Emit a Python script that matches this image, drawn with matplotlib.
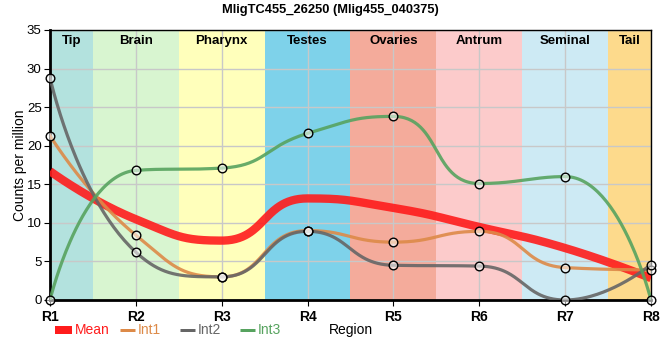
import numpy as np
import matplotlib
matplotlib.use("Agg")
import matplotlib.pyplot as plt

plt.rcParams['font.family'] = ['Liberation Sans', 'DejaVu Sans']

title = "MligTC455_26250 (Mlig455_040375)"
regions = ["R1", "R2", "R3", "R4", "R5", "R6", "R7", "R8"]
tissues = ["Tip", "Brain", "Pharynx", "Testes", "Ovaries", "Antrum", "Seminal", "Tail"]
tissue_colors = ["#b3e2de", "#d8f5d0", "#ffffbb", "#7ed2ea", "#f4ab9b", "#fccbcb", "#cdeaf4", "#fdda8c"]

int1 = [21.3, 8.4, 3.0, 9.0, 7.5, 8.9, 4.2, 3.9]
int2 = [28.8, 6.2, 3.0, 8.9, 4.5, 4.4, 0.0, 4.6]
int3 = [0.0, 16.8, 17.1, 21.6, 23.8, 15.1, 16.0, 0.0]
mean = list(np.mean([int1, int2, int3], axis=0))

FIG_W, FIG_H = 660, 360
AX_L, AX_R, AX_T, AX_B = 50, 651, 30, 300
YMAX = 35


def smooth_curve(xs, ys, smooth=0.5, n=60):
    """Bezier smoothing of a polyline, with control points clamped to the
    boxes of neighbouring points (computed in pixel space)."""
    sx = (AX_R - AX_L) / (len(xs) - 1)
    sy = (AX_B - AX_T) / YMAX
    P = [(x * sx, y * sy) for x, y in zip(xs, ys)]
    segs = []
    cp0 = P[0]
    for k in range(1, len(P)):
        x, y = P[k]
        px, py = P[k - 1]
        if k == len(P) - 1:
            cp1 = (x, y)
            ncp0 = None
        else:
            nx, ny = P[k + 1]
            vx, vy = nx - px, ny - py
            lp = np.hypot(x - px, y - py)
            ln = np.hypot(nx - x, ny - y)
            r = ln / (ln + lp)
            c0x = x + vx * smooth * r
            c0y = y + vy * smooth * r
            c0x = max(min(c0x, max(nx, x)), min(nx, x))
            c0y = max(min(c0y, max(ny, y)), min(ny, y))
            vx, vy = c0x - x, c0y - y
            c1x = x - vx * lp / ln
            c1y = y - vy * lp / ln
            c1x = max(min(c1x, max(px, x)), min(px, x))
            c1y = max(min(c1y, max(py, y)), min(py, y))
            vx, vy = x - c1x, y - c1y
            ncp0 = (x + vx * ln / lp, y + vy * ln / lp)
            cp1 = (c1x, c1y)
        segs.append((P[k - 1], cp0, cp1, (x, y)))
        cp0 = ncp0
    t = np.linspace(0, 1, n)[:, None]
    out = []
    for a, b, c, d in segs:
        a, b, c, d = map(np.array, (a, b, c, d))
        out.append((1 - t)**3 * a + 3 * (1 - t)**2 * t * b + 3 * (1 - t) * t**2 * c + t**3 * d)
    pts = np.vstack(out)
    return pts[:, 0] / sx, pts[:, 1] / sy


fig = plt.figure(figsize=(6.6, 3.6), dpi=100)
ax = fig.add_axes([AX_L / FIG_W, 1 - AX_B / FIG_H, (AX_R - AX_L) / FIG_W, (AX_B - AX_T) / FIG_H])
x = np.arange(len(regions))

for i, (t, c) in enumerate(zip(tissues, tissue_colors)):
    lo, hi = max(i - 0.5, 0), min(i + 0.5, len(regions) - 1)
    ax.axvspan(lo, hi, color=c, lw=0, zorder=0)
    ax.text((lo + hi) / 2, 34.3, t, ha='center', va='top', fontsize=9.5, fontweight='bold', zorder=5)

ax.grid(True, color='#c8c8c8', lw=1, zorder=1)
ax.set_axisbelow(True)

mean_color = '#ff1c1c'
series = [("Int1", int1, "#dd8a48"), ("Int2", int2, "#666666"), ("Int3", int3, "#57a35f")]
cx, cy = smooth_curve(x, mean)
ax.plot(cx, cy, color=mean_color, lw=6, alpha=0.9, solid_capstyle='butt', zorder=3)
for name, vals, col in series:
    cx, cy = smooth_curve(x, vals)
    ax.plot(cx, cy, color=col, lw=2.3, alpha=0.9, zorder=4)
    ax.plot(x, vals, 'o', ms=6.2, mfc=(1, 1, 1, 0.55), mec='black', mew=1, zorder=6, clip_on=False)

ax.set_xlim(0, 7)
ax.set_ylim(0, YMAX)
ax.set_xticks(x)
ax.set_xticklabels(regions, fontweight='bold', fontsize=10)
ax.set_yticks(range(0, 36, 5))
ax.tick_params(axis='y', labelsize=9.5, length=4, pad=2)
ax.tick_params(axis='x', length=4, pad=3)
ax.set_ylabel("Counts per million", fontsize=10, labelpad=0)
for sp in ['left', 'bottom']:
    ax.spines[sp].set_linewidth(2)
for sp in ['right', 'top']:
    ax.spines[sp].set_linewidth(1)

fig.suptitle(title, fontsize=9.3, fontweight='bold', y=0.99)

# legend row
ly = 1 - 330 / FIG_H
items = [("Mean", mean_color, 8, 55, 72)] + \
        [(n, c, 3, x0, x0 + 15) for (n, _, c), x0 in zip(series, [120, 180, 240])]
for name, col, lw, xa, xb in items:
    fig.add_artist(plt.Line2D([xa / FIG_W, xb / FIG_W], [ly, ly], color=col,
                              lw=lw * 0.72, solid_capstyle='butt', transform=fig.transFigure))
    fig.text((xb + 3) / FIG_W, ly, name, color=col, ha='left', va='center', fontsize=10)
fig.text(((AX_L + AX_R) / 2) / FIG_W, ly, "Region", ha='center', va='center', fontsize=10)

fig.savefig("out.png", dpi=100)
